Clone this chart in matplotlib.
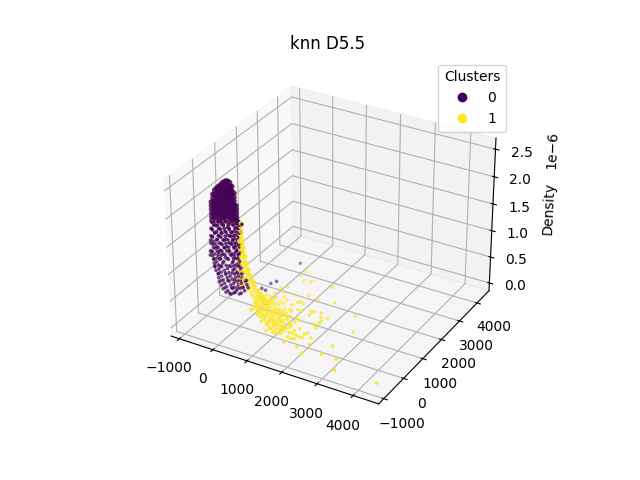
import matplotlib
matplotlib.use('Agg')
import matplotlib.pyplot as plt
import numpy as np

# solid top of the purple dome (x, y in data units, density in 1e-6)
core_x = ([-1013] * 6 + [-956] * 7 + [-899] * 9 + [-841] * 8 + [-784] * 10 + [-727] * 9 + [-670] * 11
          + [-613] * 10 + [-556] * 11 + [-499] * 10 + [-441] * 11 + [-384] * 9 + [-327] * 8 + [-270] * 5)
core_z = [1.846,1.78,1.71,1.64,1.57,1.50,
          1.996,1.93,1.86,1.79,1.72,1.65,1.58,
          2.079,2.01,1.94,1.87,1.80,1.73,1.66,1.59,1.52,
          2.125,2.05,1.98,1.91,1.84,1.77,1.70,1.63,
          2.163,2.09,2.02,1.95,1.88,1.81,1.74,1.67,1.60,1.54,
          2.20,2.13,2.06,1.99,1.92,1.85,1.78,1.71,1.64,
          2.247,2.18,2.11,2.04,1.97,1.90,1.83,1.76,1.69,1.62,1.56,
          2.277,2.21,2.14,2.07,2.00,1.93,1.86,1.79,1.72,1.65,
          2.305,2.23,2.16,2.09,2.02,1.95,1.88,1.81,1.74,1.67,1.60,
          2.309,2.24,2.17,2.10,2.03,1.96,1.89,1.82,1.75,1.68,
          2.293,2.22,2.15,2.08,2.01,1.94,1.87,1.80,1.73,1.66,1.60,
          2.235,2.16,2.09,2.02,1.95,1.88,1.81,1.74,1.67,
          2.123,2.05,1.98,1.91,1.84,1.77,1.70,1.64,
          1.907,1.84,1.77,1.70,1.64]

# scattered purple points under the dome
loose_x = [-1011,-926,-811,-726,-583,-497,-411,-297,-211,
           -1044,-901,-787,-673,-558,-387,-273,-187,
           -991,-877,-762,-619,-477,-362,-248,
           -1056,-942,-827,-713,-542,-427,-313,-199,
           -1031,-860,-746,-603,-460,-346,-231,
           -1064,-978,-807,-664,-521,-407,-293,-207,
           -1013,-899,-727,-584,-441,-327,-241,
           -1076,-933,-790,-647,-505,-362,-276,
           -1051,-966,-823,-709,-537,-423,-309,-223,
           -1029,-886,-772,-629,-457,-343,-257,
           -1004,-919,-804,-690,-547,-404,-290,-204,
           -982,-867,-725,-610,-439,-325,-239,
           -959,-845,-759,-588,-473,-359,-273,-188,
           -937,-794,-679,-537,-422,-308,-222,
           -883,-769,-626,-512,-369,-255,-169,
           -861,-718,-604,-461,-347,-232,-147,
           -836,-693,-551,-408,-293,-179,-65,
           -785,-642,-499,-385,-271,-157,-14,
           -734,-591,-448,-334,-220,-77,
           -654,-511,-369,-254,
           66,6,-72,-13,-144]
loose_y = [400,380,420,400,390,410,400,420,400,
           400,410,390,400,420,400,380,400,
           390,400,410,400,380,400,420,
           400,420,400,390,400,410,400,380,
           410,400,390,400,420,400,400,
           400,380,400,410,400,390,400,420,
           420,400,400,390,400,410,400,
           390,400,410,400,380,400,400,
           400,410,390,400,420,400,380,400,
           400,390,410,400,400,380,400,
           410,400,420,400,390,400,400,380,
           400,410,400,380,400,420,400,
           390,400,400,410,400,380,400,410,
           400,420,400,390,400,410,400,
           410,400,380,400,400,390,400,
           400,390,400,420,400,410,400,
           380,400,410,400,390,400,400,
           400,420,400,380,400,410,400,
           390,400,400,410,400,380,
           400,400,390,410,
           2880,1784,1623,1271,1299]
loose_z = [1.473,1.450,1.513,1.491,1.559,1.537,1.594,1.577,1.634,
           1.357,1.426,1.409,1.472,1.455,1.530,1.513,1.570,
           1.339,1.322,1.385,1.374,1.442,1.426,1.489,
           1.217,1.280,1.263,1.326,1.321,1.384,1.367,1.430,
           1.192,1.186,1.250,1.238,1.307,1.290,1.353,
           1.076,1.133,1.128,1.197,1.186,1.249,1.232,1.289,
           1.058,1.041,1.115,1.104,1.173,1.156,1.213,
           0.936,1.005,0.994,1.063,1.051,1.120,1.098,
           0.912,0.889,0.958,0.941,1.016,0.999,1.062,1.039,
           0.848,0.836,0.900,0.888,0.963,0.946,1.003,
           0.782,0.760,0.823,0.806,0.875,0.864,0.927,0.904,
           0.718,0.701,0.770,0.753,0.828,0.811,0.868,
           0.654,0.637,0.694,0.689,0.752,0.735,0.792,0.770,
           0.590,0.579,0.642,0.630,0.694,0.677,0.734,
           0.531,0.514,0.583,0.566,0.635,0.618,0.675,
           0.466,0.455,0.518,0.507,0.570,0.553,0.610,
           0.402,0.391,0.459,0.448,0.511,0.494,0.558,
           0.343,0.332,0.401,0.384,0.447,0.430,0.499,
           0.285,0.274,0.343,0.326,0.389,0.378,
           0.232,0.221,0.290,0.273,
           0.10,0.10,0.10,0.10,0.10]

# more purple points, filling the gaps between the ones above
extra_x = [-960,-844,-670,-525,-350,-234,-118,
           -1023,-820,-646,-501,-327,-210,
           -942,-739,-594,-449,-275,-158,
           -1006,-803,-628,-484,-367,-221,
           -1070,-896,-693,-547,-402,-257,
           -930,-756,-611,-465,-350,-175,
           -993,-848,-674,-529,-384,-210,
           -1028,-883,-738,-592,-303,-158,
           -1092,-859,-656,-482,-366,-221,
           -982,-807,-575,-400,-255,
           -963,-790,-529,-383,-208,
           -859,-656,-452,-278,-133,
           -783,-579,-376,-202,-28,
           -678,-475,-300,-126,19,
           -541,-426,-193]
extra_z = [1.429,1.452,1.487,1.516,1.551,1.574,1.597,
           1.348,1.388,1.423,1.452,1.486,1.509,
           1.295,1.335,1.364,1.393,1.428,1.451,
           1.214,1.254,1.289,1.317,1.341,1.369,
           1.131,1.166,1.206,1.235,1.264,1.293,
           1.090,1.125,1.153,1.182,1.205,1.240,
           1.008,1.037,1.072,1.101,1.130,1.164,
           0.933,0.961,0.990,1.019,1.077,1.106,
           0.851,0.897,0.938,0.972,0.995,1.024,
           0.803,0.838,0.884,0.919,0.947,
           0.669,0.704,0.755,0.784,0.819,
           0.552,0.592,0.633,0.667,0.696,
           0.428,0.469,0.509,0.544,0.578,
           0.311,0.352,0.386,0.421,0.450,
           0.235,0.258,0.304]

# yellow ridge running down from the dome
tail_x = [-145,-151,-157,-162,-139,-145,-121,-127,-104,-80,-56,-33,-9,13,37,90,113,166,218,300,354,407,
          -190,-201,-183,-166,-148,-101,-83,-33,45,125,207,
          -114,-97,-49,-2,46,95,174,225,305,386,468,
          -231,-215,-198,-179]
tail_y = [400] * 48
tail_z = [1.609,1.539,1.468,1.398,1.334,1.263,1.199,1.129,1.065,1.000,0.935,0.871,0.807,0.742,0.678,0.619,0.554,0.496,0.437,0.384,0.344,0.302,
          1.410,1.270,1.135,1.000,0.865,0.737,0.602,0.509,0.421,0.351,0.296,
          1.286,1.153,1.023,0.895,0.782,0.689,0.602,0.525,0.454,0.402,0.349,
          0.902,0.732,0.596,0.479]

# yellow points spread over the floor
floor_x = [379,392,586,764,825,1377,408,278,441,776,571,1357,1085,1801,397,719,1037,1004,1146,940,
           1506,1580,1741,2537,2005,1843,1562,1281,1196,1935,1177,1146,1120,1333,1653,1981,1867,1938,2852,1937,
           2105,1879,1847,1734,1621,1632,1322,1178,1016,2004,2223,2723,2240,2682,3106,3311,4449,1775,1275,1058,
           837,693,701,441,220,200,212,83,231,340,239,382,449,595,661,530,464,321,677,743,
           926,650,828,972,841,984,1128,1065,1194,1270,1379,1407,1398,538,545,682,786,235,53,258,284,460,208,
           100,57,10,118,149,266,375,405,553,619,325,433,351,534,565,669,813,878,580,724,
           754,859,968,1033,732,876,941,1050,1115,1220,919,1061,1093,1198,1228,1410,1580,1213,1376,1589,
           1702,1921,274,131,456,658,483,438,712,727,
           135,316,309,452,549,612,832,1019,1046,1003,1030,1022,1031,1240,1383,1527,856,921,906,845,
           468,247,216,344,436,332,1096,1355,1464,778]
floor_y = [2643,2373,2201,2222,2316,2315,1679,1539,1421,1451,1227,1602,1612,1691,1115,1136,1246,1171,1223,1000,
           1010,1049,1097,1455,969,921,828,903,885,758,502,390,187,230,172,430,547,672,790,90,
           -34,25,-167,-136,-107,-541,-333,-332,-381,-524,-290,-32,-720,-492,-502,-940,-916,-292,-84,-39,
           98,99,-82,123,259,210,440,914,823,799,642,642,776,686,821,551,416,417,459,594,
           526,257,279,278,8,7,6,-219,-193,6,-17,185,365,370,190,369,436,732,801,1026,1229,506,530,
           553,711,960,936,1049,845,822,934,843,978,326,303,529,460,573,640,639,774,213,212,
           324,391,368,503,31,30,165,142,277,344,-128,-128,-17,51,163,95,48,-310,-261,-300,
           -329,-129,664,665,596,77,798,213,482,955,
           575,507,687,687,100,324,188,29,232,391,593,773,-241,-107,-108,-109,481,616,143,-83,
           325,462,350,709,1047,980,728,524,500,617]
floor_z = [0.08,0.08,0.09,0.09,0.09,0.07,0.10,0.10,0.10,0.10,0.10,0.08,0.09,0.07,0.11,0.10,0.09,0.09,0.09,0.10,
           0.08,0.08,0.07,0.05,0.06,0.07,0.09,0.09,0.10,0.07,0.10,0.10,0.10,0.09,0.08,0.07,0.07,0.07,0.05,0.08,
           0.07,0.08,0.09,0.09,0.09,0.08,0.10,0.10,0.11,0.06,0.06,0.05,0.06,0.05,0.05,0.05,0.05,0.08,0.10,0.11,
           0.11,0.12,0.12,0.12,0.12,0.13,0.13,0.13,0.12,0.11,0.12,0.12,0.11,0.11,0.10,0.12,0.12,0.12,0.11,0.11,
           0.10,0.11,0.11,0.10,0.11,0.10,0.10,0.10,0.10,0.09,0.09,0.09,0.09,0.12,0.12,0.11,0.11,0.12,0.13,0.13,0.12,0.12,0.12,
           0.13,0.13,0.13,0.13,0.12,0.12,0.12,0.11,0.11,0.10,0.12,0.12,0.12,0.11,0.11,0.10,0.10,0.09,0.11,0.11,
           0.10,0.10,0.10,0.09,0.11,0.10,0.10,0.10,0.09,0.09,0.10,0.10,0.10,0.09,0.09,0.08,0.08,0.10,0.09,0.08,
           0.08,0.07,0.12,0.13,0.12,0.11,0.11,0.12,0.11,0.10,
           0.13,0.12,0.12,0.11,0.11,0.11,0.10,0.10,0.10,0.10,0.10,0.10,0.10,0.09,0.09,0.08,0.10,0.10,0.10,0.11,
           0.12,0.13,0.13,0.12,0.11,0.12,0.10,0.09,0.09,0.10]

x = np.array(core_x + loose_x + extra_x + tail_x + floor_x)
y = np.array([400] * len(core_x) + loose_y + [400] * len(extra_x) + tail_y + floor_y)
z = np.array(core_z + loose_z + extra_z + tail_z + floor_z) * 1e-6
clusters = np.array([0] * (len(core_x) + len(loose_x) + len(extra_x)) + [1] * (len(tail_x) + len(floor_x)))
sizes = np.array([8] * len(core_x) + [3] * (len(loose_x) + len(extra_x)) + [7] * len(tail_x) + [3] * len(floor_x))

fig = plt.figure()
ax = fig.add_subplot(projection='3d')
sc = ax.scatter(x, y, z, c=clusters, s=sizes, cmap='viridis')
ax.set_title('knn D5.5')
ax.set_zlabel('Density')
ax.set_xlim(-1250, 4700)
ax.set_ylim(-1250, 4700)
ax.set_zlim(-0.15e-6, 2.7e-6)
ax.set_xticks([-1000, 0, 1000, 2000, 3000, 4000])
ax.set_yticks([-1000, 0, 1000, 2000, 3000, 4000])
ax.legend(*sc.legend_elements(), title='Clusters', loc='upper right')
fig.savefig('out.png')
